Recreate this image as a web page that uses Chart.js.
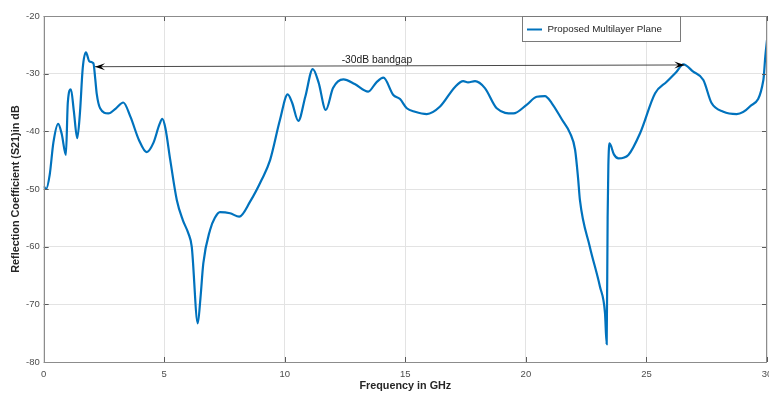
<!DOCTYPE html>
<html>
<head>
<meta charset="utf-8">
<script src="https://cdn.jsdelivr.net/npm/chart.js@4.4.1/dist/chart.umd.min.js"></script>
<style>
  html, body { margin: 0; padding: 0; background: #ffffff; }
  canvas { display: block; }
</style>
</head>
<body>
<canvas id="chart" width="769" height="396"></canvas>
<script>
// Transmission response S21 (dB) of the multilayer plane vs frequency (GHz)
const freqGHz = [
  0.00, 0.10, 0.25, 0.40, 0.60, 0.75, 0.92, 1.00, 1.13, 1.25,
  1.39, 1.50, 1.62, 1.75, 1.90, 2.06, 2.14, 2.20, 2.34, 2.68,
  3.00, 3.30, 3.60, 3.95, 4.27, 4.55, 4.80, 4.92, 5.05, 5.25,
  5.52, 5.77, 6.00, 6.14, 6.39, 6.50, 6.62, 6.90, 7.10, 7.31, 7.73,
  8.11, 8.56, 9.04, 9.39, 9.80, 10.12, 10.30, 10.56, 10.85, 11.16,
  11.40, 11.70, 12.00, 12.43, 12.90, 13.46, 13.80, 14.09, 14.50, 14.78,
  15.06, 15.40, 15.89, 16.44, 17.06, 17.40, 17.60, 17.89, 18.30, 18.79,
  19.48, 20.03, 20.45, 20.79, 21.07, 21.50, 21.83, 22.04, 22.17, 22.24,
  22.65, 23.07, 23.28, 23.35, 23.39, 23.42, 23.47, 23.65, 23.84, 24.25,
  24.74, 25.36, 25.84, 26.25, 26.53, 26.94, 27.36, 27.70, 28.19, 28.74,
  29.29, 29.85, 29.93, 30.00
];
const s21dB = [
  -49.5, -50.0, -47.5, -42.0, -38.7, -40.5, -44.1, -35.0, -32.7, -36.5,
  -41.2, -37.0, -29.0, -26.3, -27.9, -28.2, -31.0, -33.5, -36.0, -36.9,
  -36.0, -35.0, -37.5, -41.5, -43.6, -42.0, -38.8, -37.85, -39.5, -45.0,
  -51.9, -55.4, -57.7, -60.0, -73.3, -69.0, -62.9, -57.1, -55.0, -54.0, -54.2,
  -54.8, -52.2, -48.4, -45.0, -38.0, -33.6, -35.0, -38.2, -34.0, -29.2,
  -31.5, -36.3, -32.5, -31.0, -31.8, -33.1, -31.5, -30.7, -33.7, -34.4,
  -36.0, -36.6, -37.0, -35.7, -32.3, -31.3, -31.5, -31.3, -32.5, -36.0,
  -36.9, -35.4, -34.0, -33.9, -35.1, -38.0, -40.3, -43.2, -48.4, -51.9,
  -60.0, -66.9, -71.5, -76.9, -55.0, -46.0, -42.1, -44.0, -44.7, -44.1,
  -40.3, -33.4, -31.4, -29.65, -28.4, -29.65, -31.1, -35.1, -36.6, -37.0,
  -35.7, -31.1, -27.0, -24.2
];
const xTicks = [0, 5, 10, 15, 20, 25, 30];
const yTicks = [-80, -70, -60, -50, -40, -30, -20];
const seriesName = 'Proposed Multilayer Plane';

// Double-headed arrow marking the -30 dB bandgap
const bandgapLabel = '-30dB bandgap';
const bandgapFrom = [2.13, -28.79];
const bandgapTo = [26.57, -28.49];
const bandgapLabelAt = [13.82, -27.63];

const FONT = '"Liberation Sans", Arial, Helvetica, sans-serif';
const LINE_BLUE = '#0072BD';
const BOX_GRAY = '#8c8c8c';

Chart.defaults.font.family = FONT;

// Frame, inward tick marks, bandgap arrow and legend box
const decorations = {
  id: 'decorations',
  afterDraw(chart) {
    const { ctx, chartArea: a, scales: { x, y } } = chart;
    ctx.save();

    // inward tick marks on all four sides
    ctx.strokeStyle = '#5a5a5a';
    ctx.lineWidth = 1;
    const tl = 5;
    ctx.beginPath();
    xTicks.forEach(v => {
      const px = Math.round(x.getPixelForValue(v)) + 0.5;
      ctx.moveTo(px, a.bottom); ctx.lineTo(px, a.bottom - tl);
      ctx.moveTo(px, a.top); ctx.lineTo(px, a.top + tl);
    });
    yTicks.forEach(v => {
      const py = Math.round(y.getPixelForValue(v)) + 0.5;
      ctx.moveTo(a.left, py); ctx.lineTo(a.left + tl, py);
      ctx.moveTo(a.right, py); ctx.lineTo(a.right - tl, py);
    });
    ctx.stroke();

    // axes box
    ctx.strokeStyle = BOX_GRAY;
    ctx.strokeRect(Math.round(a.left) + 0.5, Math.round(a.top) + 0.5,
                   Math.round(a.right - a.left) - 1, Math.round(a.bottom - a.top));

    // bandgap double arrow
    const x1 = x.getPixelForValue(bandgapFrom[0]), y1 = y.getPixelForValue(bandgapFrom[1]);
    const x2 = x.getPixelForValue(bandgapTo[0]),   y2 = y.getPixelForValue(bandgapTo[1]);
    ctx.strokeStyle = '#1a1a1a';
    ctx.fillStyle = '#000000';
    ctx.lineWidth = 0.8;
    ctx.beginPath();
    ctx.moveTo(x1, y1); ctx.lineTo(x2, y2);
    ctx.stroke();
    const head = (tx, ty, ang) => {
      const L = 10, W = 7;
      ctx.save();
      ctx.translate(tx, ty);
      ctx.rotate(ang);
      ctx.beginPath();
      ctx.moveTo(0, 0);
      ctx.lineTo(L, -W / 2);
      ctx.lineTo(L * 0.6, 0);
      ctx.lineTo(L, W / 2);
      ctx.closePath();
      ctx.fill();
      ctx.restore();
    };
    const ang = Math.atan2(y2 - y1, x2 - x1);
    head(x1, y1, ang);
    head(x2, y2, ang + Math.PI);

    ctx.fillStyle = '#1a1a1a';
    ctx.font = '10.3px ' + FONT;
    ctx.textAlign = 'center';
    ctx.textBaseline = 'middle';
    ctx.fillText(bandgapLabel, x.getPixelForValue(bandgapLabelAt[0]), y.getPixelForValue(bandgapLabelAt[1]));

    // legend box in the upper right of the axes
    const ds = chart.data.datasets[0];
    const bx = Math.round(a.right - 245) + 0.5, by = Math.round(a.top) + 0.5;
    const bw = 158, bh = 25;
    ctx.fillStyle = '#ffffff';
    ctx.fillRect(bx, by, bw, bh);
    ctx.strokeStyle = '#7a7a7a';
    ctx.lineWidth = 1;
    ctx.strokeRect(bx, by, bw, bh);
    const ly = by + 13;
    ctx.strokeStyle = ds.borderColor;
    ctx.lineWidth = 2;
    ctx.beginPath();
    ctx.moveTo(bx + 4.5, ly); ctx.lineTo(bx + 19.5, ly);
    ctx.stroke();
    ctx.fillStyle = '#262626';
    ctx.font = '9.8px ' + FONT;
    ctx.textAlign = 'left';
    ctx.textBaseline = 'middle';
    ctx.fillText(ds.label, bx + 25, ly);

    ctx.restore();
  }
};

new Chart(document.getElementById('chart'), {
  type: 'line',
  data: {
    datasets: [{
      label: seriesName,
      data: freqGHz.map((f, i) => ({ x: f, y: s21dB[i] })),
      borderColor: LINE_BLUE,
      backgroundColor: LINE_BLUE,
      borderWidth: 2.2,
      pointRadius: 0,
      fill: false,
      cubicInterpolationMode: 'monotone'
    }]
  },
  options: {
    responsive: false,
    animation: false,
    devicePixelRatio: 1,
    layout: { padding: { top: 16, right: 2, bottom: 0, left: 0 } },
    plugins: {
      legend: { display: false },
      tooltip: { enabled: false }
    },
    scales: {
      x: {
        type: 'linear',
        min: 0,
        max: 30,
        afterBuildTicks: s => { s.ticks = xTicks.map(v => ({ value: v })); },
        afterFit: s => { s.height = 34; s.paddingLeft = 0; s.paddingRight = 0; },
        grid: { color: '#e3e3e3', lineWidth: 1, drawTicks: false },
        border: { display: false },
        ticks: { color: '#4d4d4d', font: { size: 9.5 }, padding: 7, maxRotation: 0, autoSkip: false },
        title: {
          display: true,
          text: 'Frequency in GHz',
          color: '#262626',
          font: { size: 10.8, weight: 'bold' },
          padding: { top: 0, bottom: 3 }
        }
      },
      y: {
        type: 'linear',
        min: -80,
        max: -20,
        afterBuildTicks: s => { s.ticks = yTicks.map(v => ({ value: v })); },
        afterFit: s => { s.width = 43.7; s.paddingTop = 0; s.paddingBottom = 0; },
        grid: { color: '#e3e3e3', lineWidth: 1, drawTicks: false },
        border: { display: false },
        ticks: { color: '#4d4d4d', font: { size: 9.5 }, padding: 4 },
        title: {
          display: true,
          text: 'Reflection Coefficient (S21)in dB',
          color: '#262626',
          font: { size: 10.8, weight: 'bold' },
          padding: { top: 10, bottom: 0 }
        }
      }
    }
  },
  plugins: [decorations]
});
</script>
</body>
</html>
